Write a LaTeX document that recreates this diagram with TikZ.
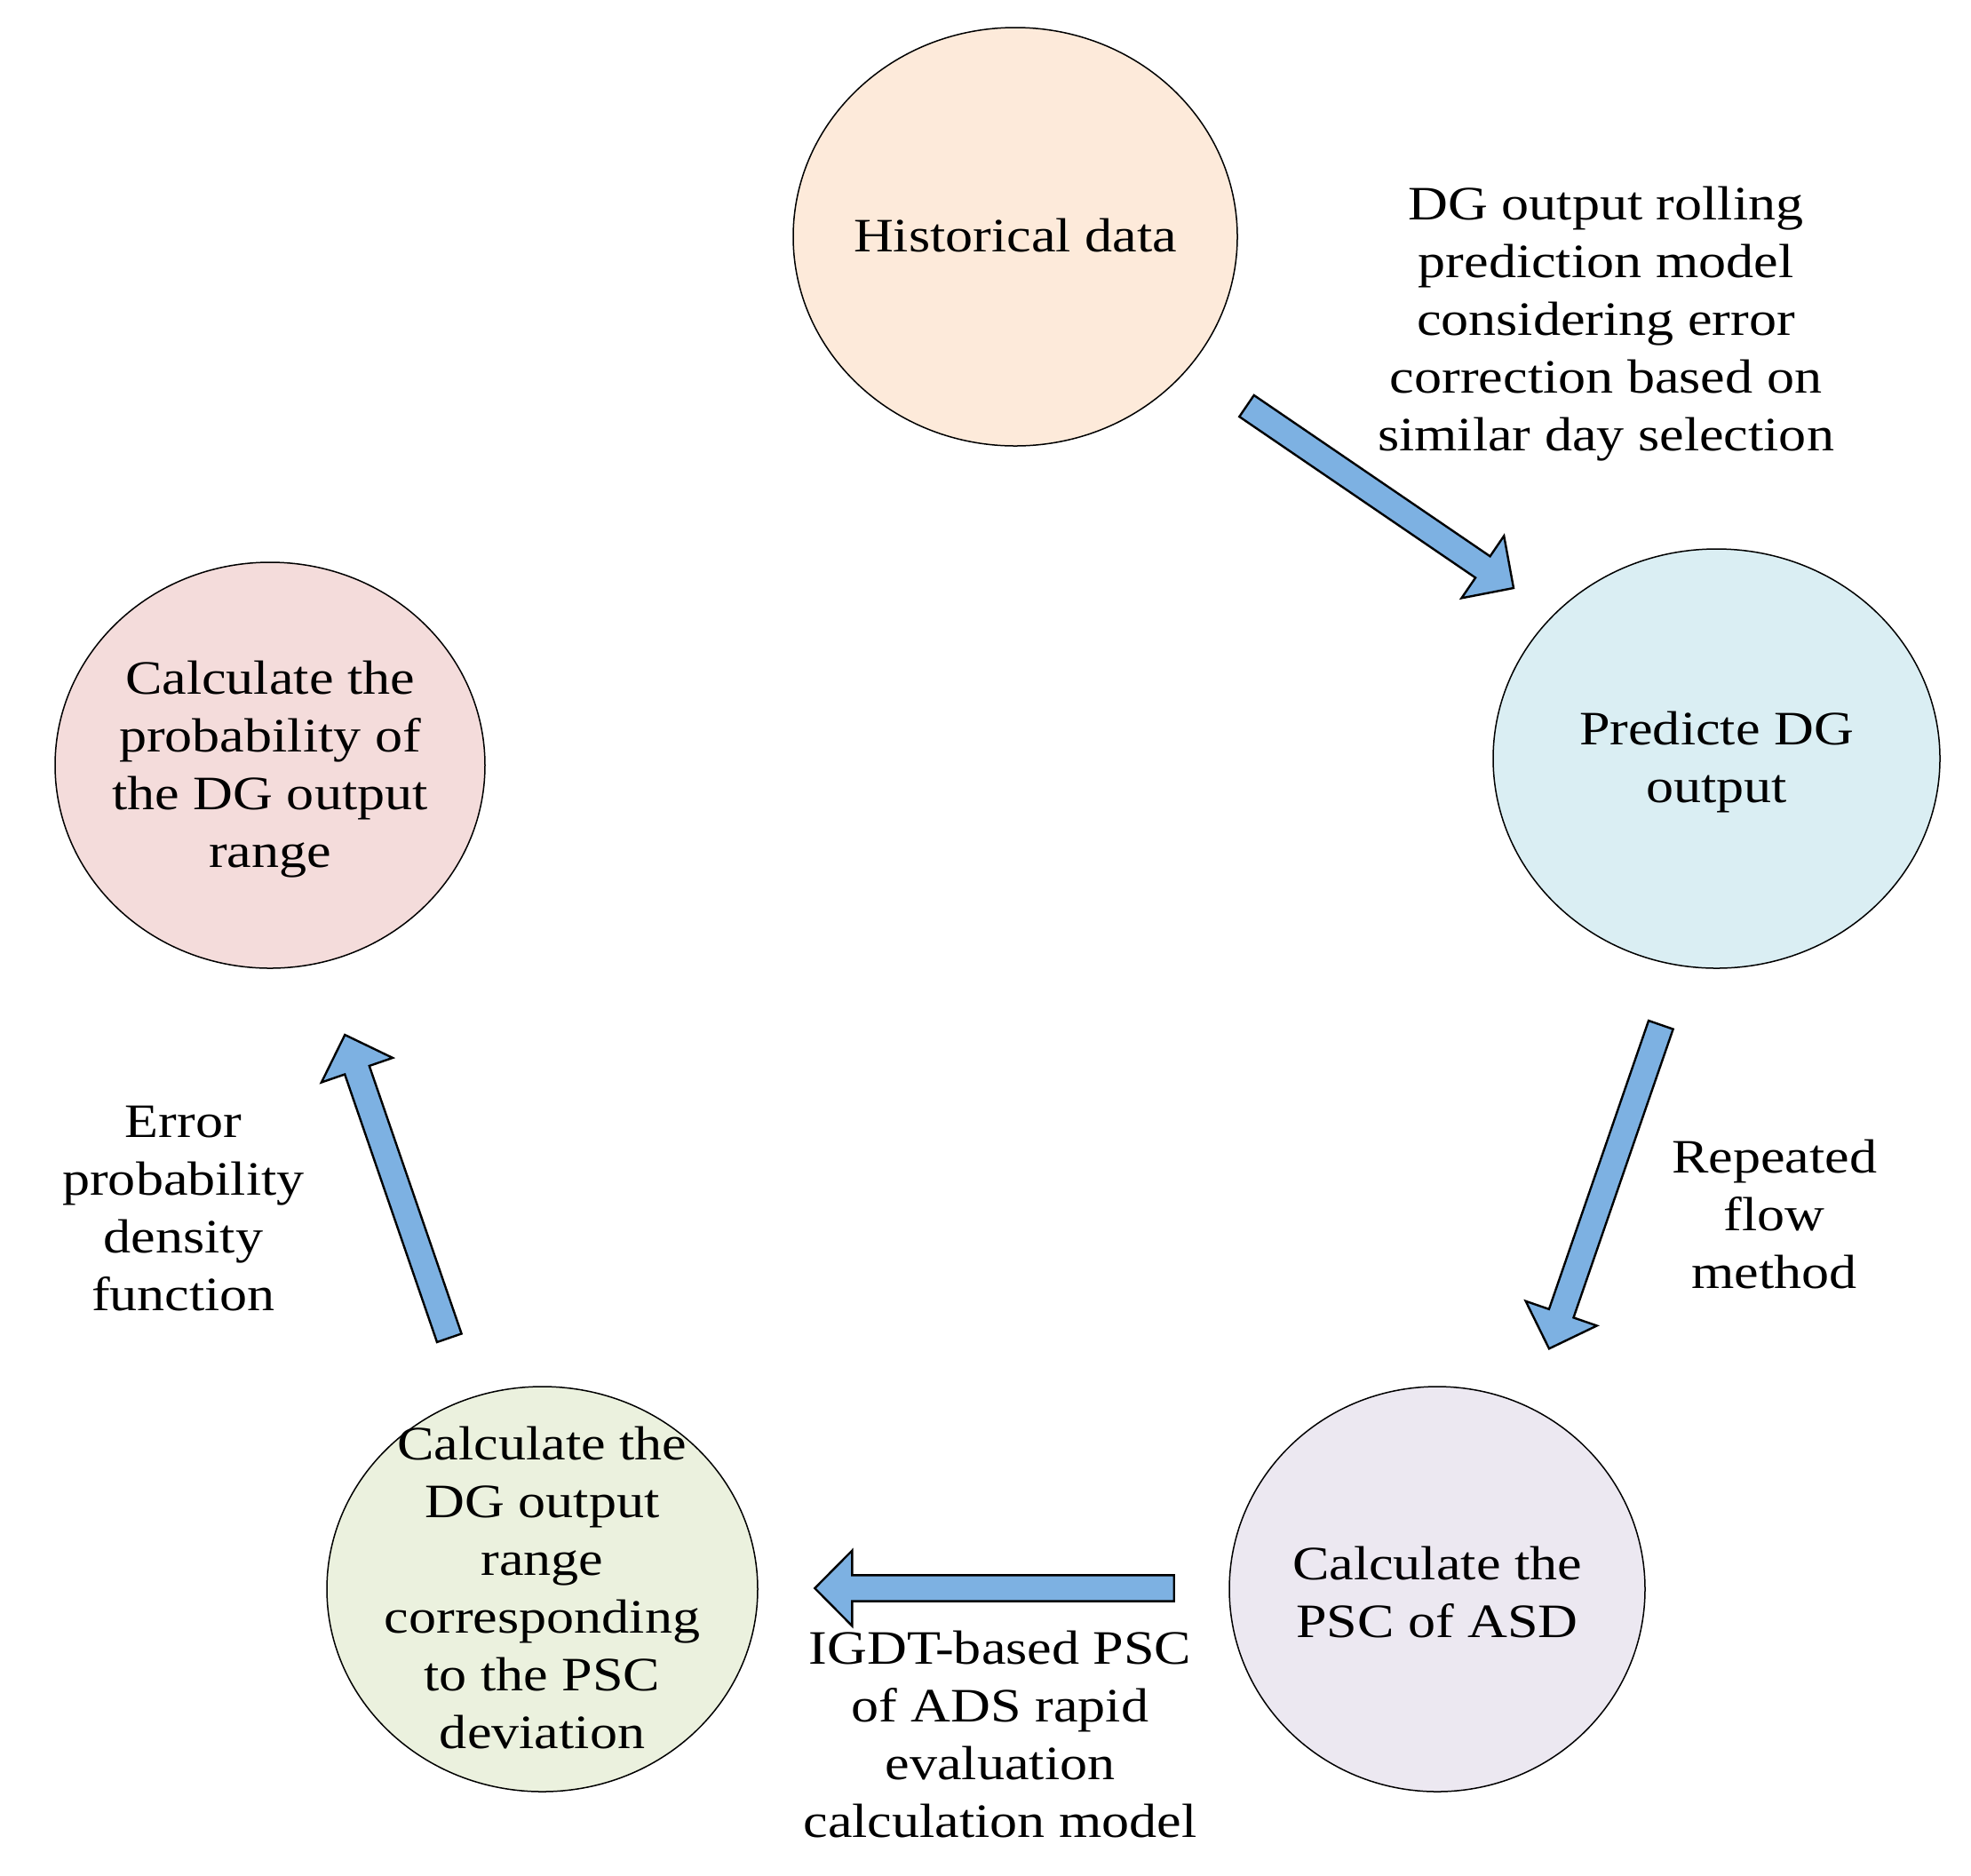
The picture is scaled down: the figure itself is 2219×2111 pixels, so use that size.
\documentclass[tikz,border=0pt]{standalone}
\usepackage{fontspec}
\setmainfont{Liberation Serif}
\usepackage{graphicx}
\usetikzlibrary{shapes.geometric,calc}
\definecolor{cHist}{HTML}{FDEADA}
\definecolor{cPred}{HTML}{DAEEF3}
\definecolor{cProb}{HTML}{F4DCDB}
\definecolor{cPsc}{HTML}{ECE8F1}
\definecolor{cRange}{HTML}{EBF1DE}
\definecolor{cArrow}{HTML}{7DB1E2}
\newcommand\txtlines[1]{\scalebox{1.15}[1]{\begin{tabular}{@{}c@{}}#1\end{tabular}}}
\def\sw{7.3pt}
\def\hw{21.2pt}
\def\hl{21pt}
\newcommand\blockarrow[2]{%
  \draw[barrow] ($(#1)!\sw!90:(#2)$) -- ($(#2)!\hl!(#1)!\sw!-90:(#1)$)
    -- ($(#2)!\hl!(#1)!\hw!-90:(#1)$) -- (#2)
    -- ($(#2)!\hl!(#1)!\hw!90:(#1)$) -- ($(#2)!\hl!(#1)!\sw!90:(#1)$)
    -- ($(#1)!\sw!-90:(#2)$) -- cycle;}
\tikzset{
  circ/.style={ellipse, draw=black, line width=0.75pt, inner sep=0pt},
  lbl/.style={font=\fontsize{27}{32.5}\selectfont, align=center, inner sep=0pt, yshift=-2pt},
  barrow/.style={draw=black, fill=cArrow, line width=1.2pt, line join=miter},
}
\begin{document}
\begin{tikzpicture}[x=0.5pt, y=-0.5pt]
\useasboundingbox (0,0) rectangle (2219,2111);
% ellipses
\node[circ, fill=cHist, minimum width=250pt, minimum height=235.5pt] (hist) at (1143,266.5) {};
\node[circ, fill=cPred, minimum width=251.5pt, minimum height=236pt] (pred) at (1932.5,854) {};
\node[circ, fill=cProb, minimum width=242pt, minimum height=228.5pt] (prob) at (304,861.5) {};
\node[circ, fill=cPsc, minimum width=234pt, minimum height=228pt] (psc) at (1618,1789) {};
\node[circ, fill=cRange, minimum width=242.5pt, minimum height=228pt] (range) at (610.5,1789) {};
% ellipse texts
\node[lbl] (histT) at (1143,266.5) {\txtlines{Historical data}};
\node[lbl] (predT) at (1932.5,854) {\txtlines{Predicte DG\\output}};
\node[lbl] (probT) at (304,861.5) {\txtlines{Calculate the\\probability of\\the DG output\\range}};
\node[lbl] (pscT) at (1618,1794) {\txtlines{Calculate the\\PSC of ASD}};
\node[lbl] (rangeT) at (610.5,1789) {\txtlines{Calculate the\\DG output\\range\\corresponding\\to the PSC\\deviation}};
% arrow labels
\node[lbl] (l1) at (1808,360) {\txtlines{DG output rolling\\prediction model\\considering error\\correction based on\\similar day selection}};
\node[lbl] (l2) at (1997.5,1368.5) {\txtlines{Repeated\\flow\\method}};
\node[lbl] (l3) at (1126,1954) {\txtlines{IGDT-based PSC\\of ADS rapid\\evaluation\\calculation model}};
\node[lbl] (l4) at (206.5,1361) {\txtlines{Error\\probability\\density\\function}};
% arrow ends
\coordinate (a1t) at (1403.5,457);
\coordinate (a1h) at (1704,662);
\coordinate (a2t) at (1869.8,1153.8);
\coordinate (a2h) at (1744,1518.3);
\coordinate (a3t) at (1321.7,1788);
\coordinate (a3h) at (917.3,1788);
\coordinate (a4t) at (505.8,1506.2);
\coordinate (a4h) at (388.3,1165);
\blockarrow{a1t}{a1h}
\blockarrow{a2t}{a2h}
\blockarrow{a3t}{a3h}
\blockarrow{a4t}{a4h}
\end{tikzpicture}
\end{document}
